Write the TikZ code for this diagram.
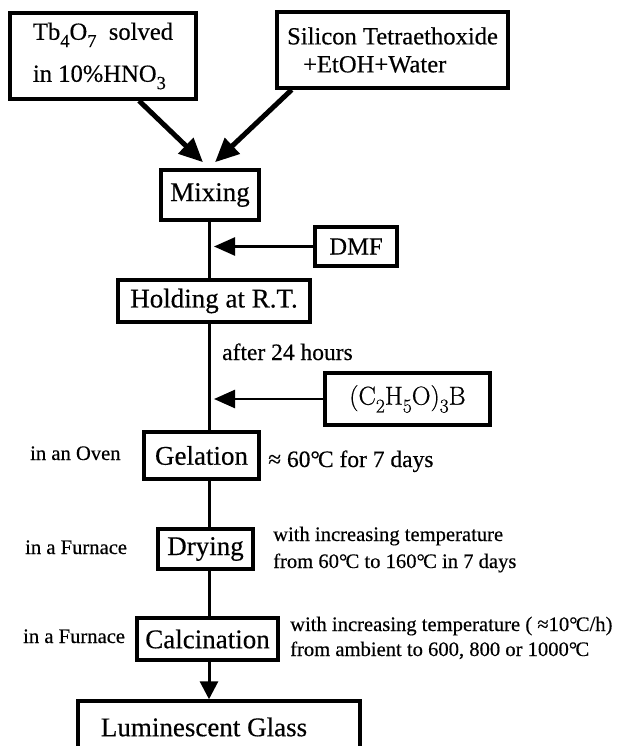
\documentclass[tikz,border=0pt]{standalone}
\usepackage{fontspec}
\setmainfont{Liberation Serif}[FakeBold=0.4]
\newfontfamily\lmfont{Latin Modern Roman}[FakeBold=0.6]
\usepackage{graphicx}
\usetikzlibrary{arrows.meta,calc}
\newcommand\sbs[1]{\raisebox{-0.3em}{\scalebox{0.75}{#1}}}
\newcommand\dgC{°\kern-0.08em C}
\begin{document}
\begin{tikzpicture}[x=1pt,y=-1pt,
  box/.style={draw,line width=3.5pt,inner sep=0pt,align=center},
  proc/.style={box,font=\fontsize{27}{31}\selectfont},
  src/.style={box,font=\fontsize{24.6}{28}\selectfont},
  lbl/.style={inner sep=0pt,anchor=base west,font=\fontsize{20.6}{24}\selectfont},
  note/.style={inner sep=0pt,anchor=base west,font=\fontsize{23.5}{27}\selectfont},
  flow/.style={line width=3pt},
  bigarr/.style={line width=5pt,-{Triangle[length=24pt,width=21pt]}},
  sidearr/.style={line width=2.5pt,-{Triangle[length=21pt,width=18pt]}},
  downarr/.style={line width=3pt,-{Triangle[length=18pt,width=18pt]}}
]
\useasboundingbox (0,0) rectangle (616,746);
\clip (0,0) rectangle (616,746);
\coordinate (sp) at (209,0);

\node[src,minimum width=186pt,minimum height=86pt,align=left] (tb) at (103,56)
  {Tb\sbs{4}O\sbs{7}\ \ solved\\[14pt]in 10\%HNO\sbs{3}};
\node[src,minimum width=231pt,minimum height=76pt,align=left] (si) at (392.5,50)
  {Silicon Tetraethoxide\\\hspace*{16pt}+EtOH+Water};
\node[proc,minimum width=98pt,minimum height=50pt] (mix) at (210,195) {Mixing};
\node[src,minimum width=82pt,minimum height=39pt] (dmf) at (356,246.5) {DMF};
\node[proc,minimum width=192pt,minimum height=42pt] (hold) at (214,301) {Holding at R.T.};
\node[note] (after) at (222,360) {after 24 hours};
\node[box,minimum width=165pt,minimum height=52pt,font=\lmfont\fontsize{26}{30}\selectfont] (bor) at (407.5,399)
  {(C\sbs{2}H\sbs{5}O)\sbs{3}B};
\node[proc,minimum width=115pt,minimum height=47pt] (gel) at (201.5,455.5) {Gelation};
\node[lbl] (oven) at (30,460) {in an Oven};
\node[note] (gelnote) at (268,467) {≈ 60\dgC\ for 7 days};
\node[proc,minimum width=95pt,minimum height=40pt] (dry) at (205.5,549) {Drying};
\node[lbl] (fur1) at (25,554) {in a Furnace};
\node[lbl] (drynote1) at (273,541) {with increasing temperature};
\node[lbl] (drynote2) at (273,568) {from 60\dgC\ to 160\dgC\ in 7 days};
\node[proc,minimum width=141pt,minimum height=42pt] (cal) at (207.5,639) {Calcination};
\node[lbl] (fur2) at (23,643) {in a Furnace};
\node[lbl] (calnote1) at (290,631) {with increasing temperature ( ≈10\dgC/h)};
\node[lbl] (calnote2) at (290,656) {from ambient to 600, 800 or 1000\dgC};
\node[proc,minimum width=282pt,minimum height=52pt] (lum) at (219,727) {Luminescent Glass\hspace*{30pt}};

\draw[bigarr] ($(tb.south west)!0.69!(tb.south east)$) -- ($(mix.north)+(-7,-6)$);
\draw[bigarr] ($(si.south west)!0.07!(si.south east)$) -- ($(mix.north)+(5,-6)$);

\draw[flow] (sp |- mix.south) -- (sp |- hold.north);
\draw[flow] (sp |- hold.south) -- (sp |- gel.north);
\draw[flow] (sp |- gel.south) -- (sp |- dry.north);
\draw[flow] (sp |- dry.south) -- (sp |- cal.north);
\draw[downarr] (sp |- cal.south) -- (sp |- lum.north);

\draw[sidearr] (dmf.west) -- ($(sp |- dmf.west)+(5,0)$);
\draw[sidearr] (bor.west) -- ($(sp |- bor.west)+(5,0)$);
\end{tikzpicture}
\end{document}
